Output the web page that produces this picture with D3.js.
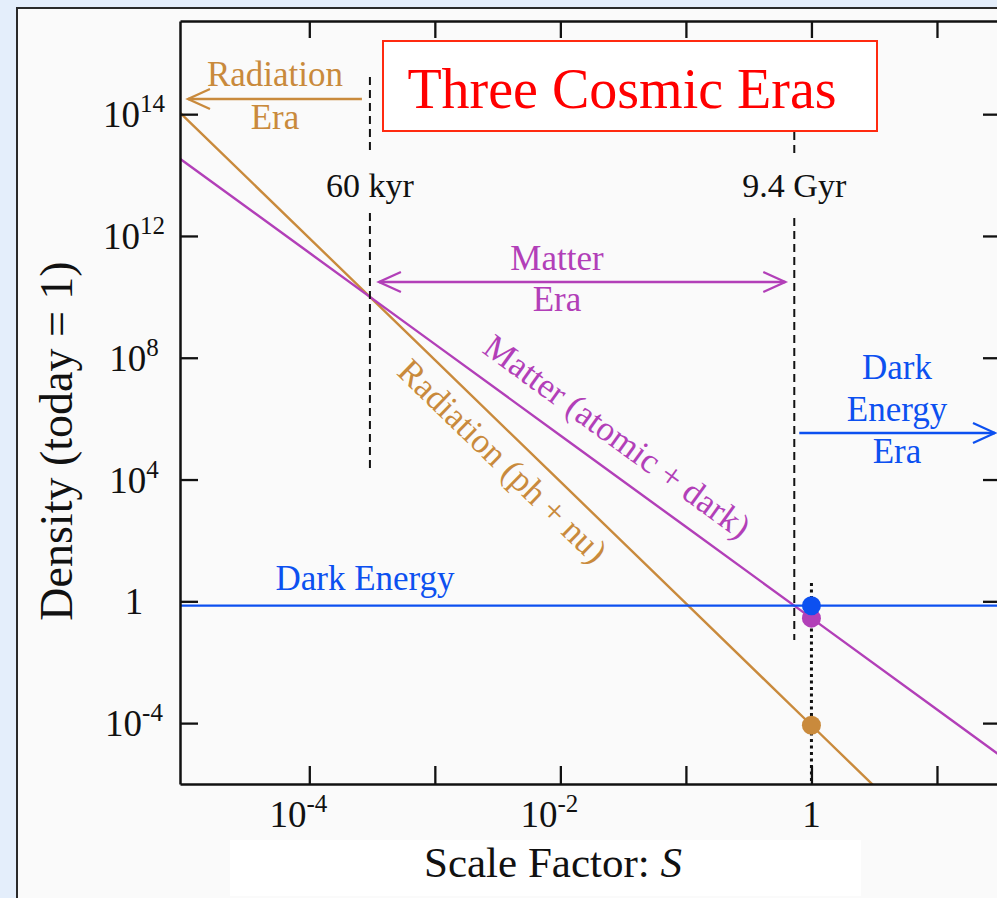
<!DOCTYPE html>
<html>
<head>
<meta charset="utf-8">
<script src="https://cdn.jsdelivr.net/npm/d3@7"></script>
<style>
  html, body { margin: 0; padding: 0; background: #e4eefb; }
  svg { display: block; }
  text { font-family: "Liberation Serif", "Times New Roman", Times, serif; }
</style>
</head>
<body>
<svg id="chart" width="997" height="898"></svg>
<script>
// Scale factor samples (one per decade) and the density of each component, relative to today's total
const scaleFactor = [1e-6, 1e-5, 1e-4, 1e-3, 1e-2, 1e-1, 1, 10, 100];
const radiation   = [8.5e19, 8.5e15, 8.5e11, 8.5e7, 8.5e3, 0.85, 8.5e-5, 8.5e-9, 8.5e-13];
const matter      = [2.8e17, 2.8e14, 2.8e11, 2.8e8, 2.8e5, 280, 0.28, 2.8e-4, 2.8e-7];
const darkEnergy  = [0.72, 0.72, 0.72, 0.72, 0.72, 0.72, 0.72, 0.72, 0.72];

// Where one era hands over to the next
const eraBoundaryS     = [3.04e-4, 0.73];
const eraBoundaryLabel = ["60 kyr", "9.4 Gyr"];

// Axis ticks
const xTicks       = [1e-4, 1e-3, 1e-2, 1e-1, 1, 10];
const xLabelValues = [1e-4, 1e-2, 1];
const xLabelBase   = ["10", "10", "1"];
const xLabelExp    = ["-4", "-2", ""];
const yTicks       = [1e-4, 1, 1e4, 1e8, 1e12, 1e16];
const yLabelBase   = ["10", "1", "10", "10", "10", "10"];
const yLabelExp    = ["-4", "", "4", "8", "12", "14"];

const COL_RAD = "#c98a3c", COL_MAT = "#b23fb8", COL_DE = "#0c50f0", INK = "#111";

const svg = d3.select("#chart");
const plotLeft = 180, plotRight = 1001, plotTop = 21, plotBottom = 784;

const x = d3.scaleLog().domain([Math.pow(10, -5.03), Math.pow(10, 1.51)]).range([plotLeft, plotRight]);
const y = d3.scaleLog().domain([1e-6, Math.pow(10, 19.06)]).range([plotBottom, plotTop]);

// page backdrop and panel
svg.append("rect").attr("width", 997).attr("height", 898).attr("fill", "#e4eefb");
svg.append("rect").attr("x", 17).attr("y", 8).attr("width", 1100).attr("height", 1000)
  .attr("fill", "#fafafa").attr("stroke", "#2a2a2a").attr("stroke-width", 2);

svg.append("clipPath").attr("id", "plotClip")
  .append("rect").attr("x", plotLeft).attr("y", plotTop)
  .attr("width", plotRight - plotLeft).attr("height", plotBottom - plotTop);

const plot = svg.append("g").attr("clip-path", "url(#plotClip)");

// density curves
const series = [
  { values: radiation, color: COL_RAD },
  { values: matter, color: COL_MAT },
  { values: darkEnergy, color: COL_DE }
];
const line = d3.line().x(d => x(d[0])).y(d => y(d[1]));
series.forEach(s => {
  plot.append("path")
    .datum(scaleFactor.map((sf, i) => [sf, s.values[i]]))
    .attr("d", line)
    .attr("fill", "none")
    .attr("stroke", s.color)
    .attr("stroke-width", 2.4);
});

// era boundaries (dashed), broken around their labels
const xEq = x(eraBoundaryS[0]), xDE = x(eraBoundaryS[1]);
const dashSegs = [
  [xEq, 77, 155], [xEq, 213, 470],
  [xDE, 132, 155], [xDE, 218, 640]
];
dashSegs.forEach(([xx, y0, y1]) => {
  svg.append("line").attr("x1", xx).attr("x2", xx).attr("y1", y0).attr("y2", y1)
    .attr("stroke", INK).attr("stroke-width", 2).attr("stroke-dasharray", "8,5");
});
svg.selectAll(".eraLabel").data(eraBoundaryS).join("text")
  .attr("class", "eraLabel")
  .attr("x", d => x(d))
  .attr("y", 197)
  .attr("text-anchor", "middle")
  .attr("font-size", 34)
  .attr("fill", INK)
  .text((d, i) => eraBoundaryLabel[i]);

// today (S = 1), dotted
const iToday = scaleFactor.indexOf(1);
svg.append("line").attr("x1", x(1)).attr("x2", x(1)).attr("y1", 583).attr("y2", plotBottom)
  .attr("stroke", INK).attr("stroke-width", 3).attr("stroke-dasharray", "3,3.5");

// today's values
[[matter, COL_MAT], [radiation, COL_RAD], [darkEnergy, COL_DE]].forEach(([vals, c]) => {
  svg.append("circle").attr("cx", x(1)).attr("cy", y(vals[iToday])).attr("r", 9.5).attr("fill", c);
});

// axes
function styleAxis(g) {
  g.selectAll("path.domain").attr("stroke", INK).attr("stroke-width", 2.5);
  g.selectAll(".tick line").attr("stroke", INK).attr("stroke-width", 2.3);
  g.selectAll(".tick text").remove();
}
svg.append("g").attr("transform", `translate(0,${plotBottom})`)
  .call(d3.axisBottom(x).tickValues(xTicks).tickSize(-18).tickSizeOuter(0).tickFormat(""))
  .call(styleAxis);
svg.append("g").attr("transform", `translate(0,${plotTop})`)
  .call(d3.axisTop(x).tickValues(xTicks).tickSize(-17).tickSizeOuter(0).tickFormat(""))
  .call(styleAxis);
svg.append("g").attr("transform", `translate(${plotLeft},0)`)
  .call(d3.axisLeft(y).tickValues(yTicks).tickSize(-18).tickSizeOuter(0).tickFormat(""))
  .call(styleAxis);
svg.append("g").attr("transform", `translate(${plotRight},0)`)
  .call(d3.axisRight(y).tickValues(yTicks).tickSize(-18).tickSizeOuter(0).tickFormat(""))
  .call(styleAxis);

// tick labels with superscript exponents
function powerLabel(g, base, exp) {
  g.append("tspan").text(base);
  if (exp) g.append("tspan").attr("dy", -15).attr("font-size", 25).text(exp);
}
xLabelValues.forEach((v, i) => {
  const t = svg.append("text")
    .attr("x", x(v) + (xLabelExp[i] ? -11 : 0))
    .attr("y", 827)
    .attr("text-anchor", "middle")
    .attr("font-size", 37)
    .attr("fill", INK);
  powerLabel(t, xLabelBase[i], xLabelExp[i]);
});
yTicks.forEach((v, i) => {
  const t = svg.append("text")
    .attr("x", 134)
    .attr("y", y(v) + 13)
    .attr("text-anchor", "middle")
    .attr("font-size", 37)
    .attr("fill", INK);
  powerLabel(t, yLabelBase[i], yLabelExp[i]);
});

// axis titles
svg.append("text")
  .attr("transform", "translate(72,441) rotate(-90)")
  .attr("text-anchor", "middle")
  .attr("font-size", 46)
  .attr("fill", INK)
  .text("Density (today = 1)");

svg.append("rect").attr("x", 230).attr("y", 840).attr("width", 631).attr("height", 56).attr("fill", "#ffffff");
const xt = svg.append("text").attr("x", 553).attr("y", 877).attr("text-anchor", "middle")
  .attr("font-size", 43).attr("fill", INK);
xt.append("tspan").text("Scale Factor: ");
xt.append("tspan").attr("font-style", "italic").text("S");

// chart title
svg.append("rect").attr("x", 383).attr("y", 41).attr("width", 494).attr("height", 90)
  .attr("fill", "#ffffff").attr("stroke", "#ff2a10").attr("stroke-width", 2);
svg.append("text").attr("x", 622).attr("y", 108).attr("text-anchor", "middle")
  .attr("font-size", 56).attr("fill", "#ff0000").text("Three Cosmic Eras");

// open chevron arrow heads
function chevron(tipX, tipY, dir, color) {
  svg.append("path")
    .attr("d", `M${tipX - dir * 22},${tipY - 10}L${tipX},${tipY}L${tipX - dir * 22},${tipY + 10}`)
    .attr("fill", "none").attr("stroke", color).attr("stroke-width", 2.3);
}
function hArrow(x0, x1, yy, color, heads) {
  svg.append("line").attr("x1", x0).attr("x2", x1).attr("y1", yy).attr("y2", yy)
    .attr("stroke", color).attr("stroke-width", 2.3);
  if (heads.includes("start")) chevron(x0, yy, -1, color);
  if (heads.includes("end")) chevron(x1, yy, 1, color);
}
function multiline(lines, cx, y0, lh, color) {
  lines.forEach((s, i) => {
    svg.append("text").attr("x", cx).attr("y", y0 + i * lh).attr("text-anchor", "middle")
      .attr("font-size", 35).attr("fill", color).text(s);
  });
}

// radiation era
hArrow(plotLeft + 8, xEq - 8, 99, COL_RAD, ["start"]);
multiline(["Radiation", "Era"], 275, 86, 43, COL_RAD);

// matter era
hArrow(xEq + 9, xDE - 9, 282, COL_MAT, ["start", "end"]);
multiline(["Matter", "Era"], 557, 270, 41, COL_MAT);

// dark energy era
hArrow(xDE + 5, 995, 433, COL_DE, ["end"]);
multiline(["Dark", "Energy", "Era"], 897, 379, 42, COL_DE);

// curve labels
svg.append("text").attr("x", 365).attr("y", 590).attr("text-anchor", "middle")
  .attr("font-size", 35).attr("fill", COL_DE).text("Dark Energy");

function slopedLabel(vals, sMid, offset, text, color) {
  const i0 = iToday, i1 = iToday - 1;
  const dx = x(scaleFactor[i0]) - x(scaleFactor[i1]);
  const dy = y(vals[i0]) - y(vals[i1]);
  const ang = Math.atan2(dy, dx);
  // point on the curve at sMid, interpolated in log space
  const k = scaleFactor.findIndex(v => v > sMid) - 1;
  const t = (Math.log10(sMid) - Math.log10(scaleFactor[k])) / (Math.log10(scaleFactor[k + 1]) - Math.log10(scaleFactor[k]));
  const lv = Math.log10(vals[k]) + t * (Math.log10(vals[k + 1]) - Math.log10(vals[k]));
  const px = x(sMid) + offset * Math.sin(ang);
  const py = y(Math.pow(10, lv)) - offset * Math.cos(ang);
  svg.append("text")
    .attr("transform", `translate(${px},${py}) rotate(${ang * 180 / Math.PI})`)
    .attr("text-anchor", "middle")
    .attr("font-size", 35)
    .attr("fill", color)
    .text(text);
}
slopedLabel(matter, Math.pow(10, -1.70), 21, "Matter (atomic + dark)", COL_MAT);
slopedLabel(radiation, Math.pow(10, -2.32), -37, "Radiation (ph + nu)", COL_RAD);
</script>
</body>
</html>
